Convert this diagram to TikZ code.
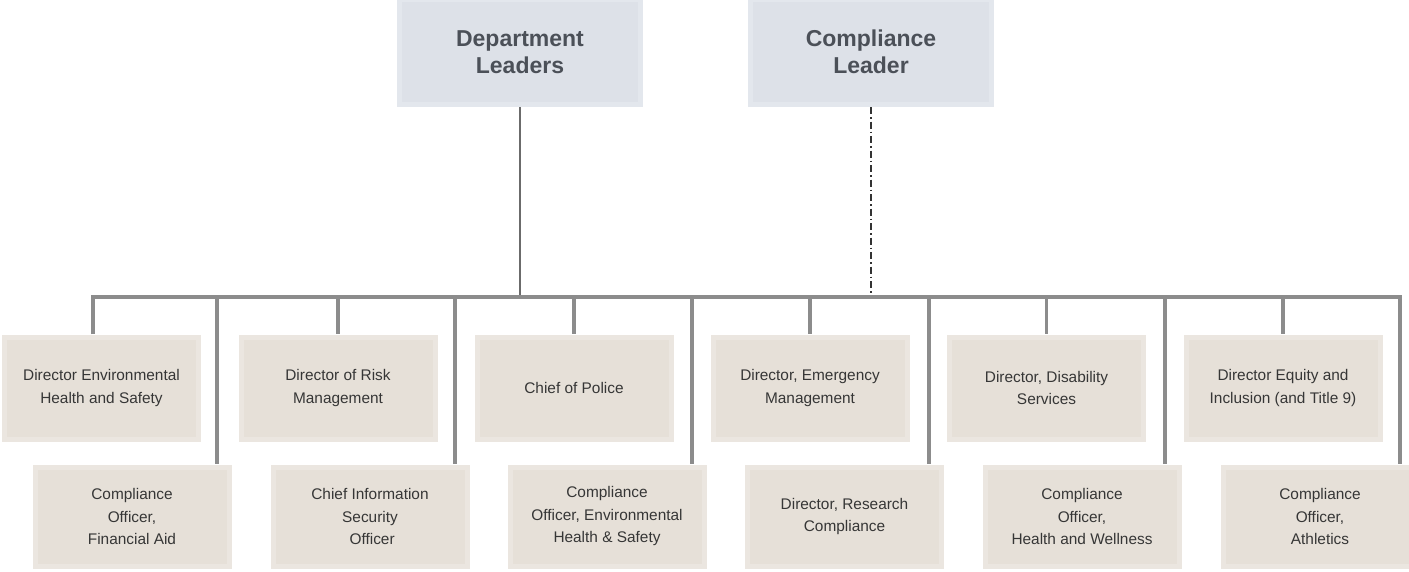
\documentclass[tikz,border=0pt]{standalone}
\usepackage{fontspec}
\setmainfont{Liberation Sans}
\definecolor{leadfill}{HTML}{E3E7ED}
\definecolor{leadcore}{HTML}{DDE1E8}
\definecolor{leadtext}{HTML}{4B5058}
\definecolor{unitfill}{HTML}{EBE6E0}
\definecolor{unitcore}{HTML}{E6E0D8}
\definecolor{unittext}{HTML}{363636}
\definecolor{busgray}{HTML}{8C8C8C}
\tikzset{
  bevelbox/.style={draw=none, fill=#1, inner sep=0pt, align=center},
  core/.style={path picture={\fill[#1]
      ([shift={(5pt,-5pt)}]path picture bounding box.north west) rectangle
      ([shift={(-5pt,5pt)}]path picture bounding box.south east);}},
  leader/.style={bevelbox=leadfill, core=leadcore, minimum width=246pt, minimum height=110pt,
      text=leadtext, font=\fontsize{23}{27}\selectfont\bfseries},
  unitbox/.style={bevelbox=unitfill, core=unitcore, minimum width=199pt, minimum height=107pt,
      text=unittext, font=\fontsize{15.4}{22.5}\selectfont},
  lowbox/.style={unitbox, minimum height=104pt},
  bus/.style={draw=busgray, line width=3.6pt, line join=miter},
  solidlink/.style={draw=black!58, line width=1.4pt},
  dotlink/.style={draw=black!80, line width=1.2pt, dash pattern=on 7pt off 3pt on 1.5pt off 3pt},
}
\begin{document}
\begin{tikzpicture}[x=1pt,y=-1pt]
\useasboundingbox (0,0) rectangle (1409,571);

% leadership
\node[leader] (dept) at (520,52) {Department\\Leaders};
\node[leader] (comp) at (871,52) {Compliance\\Leader};

% first row of units
\node[unitbox] (t1) at (101.5,388) {Director Environmental\\Health and Safety};
\node[unitbox] (t2) at (338,388) {Director of Risk\\Management};
\node[unitbox] (t3) at (574,388) {Chief of Police};
\node[unitbox] (t4) at (810,388) {Director, Emergency\\Management};
\node[unitbox] (t5) at (1046.5,388) {Director, Disability\\Services};
\node[unitbox] (t6) at (1283,388) {Director Equity and\\Inclusion (and Title 9)};

% second row of units
\node[lowbox] (b1) at (132,516.5) {Compliance\\Officer,\\Financial Aid};
\node[lowbox] (b2) at (370,516.5) {Chief Information\\Security\\\ Officer};
\node[lowbox] (b3) at (607,516.5) {Compliance\\Officer, Environmental\\Health \& Safety};
\node[lowbox] (b4) at (844.5,516.5) {Director, Research\\Compliance};
\node[lowbox] (b5) at (1082,516.5) {Compliance\\Officer,\\Health and Wellness};
\node[lowbox] (b6) at (1320,516.5) {Compliance\\Officer,\\Athletics};

% bus line and its drop points
\coordinate (busL) at (93,297);
\coordinate (busR) at (1400,297);
\coordinate (d1) at (217,297);
\coordinate (d2) at (455,297);
\coordinate (d3) at (692,297);
\coordinate (d4) at (929,297);
\coordinate (d5) at (1165,297);

% links from the leaders
\draw[solidlink] (dept.south) -- (dept.south |- busL);
\draw[dotlink] (comp.south) -- (comp.south |- busL);

% bus with its end drops
\draw[bus] (t1.north -| busL) -- (busL) -- (busR) -- (busR |- b6.north);

% drops to the first row
\foreach \n in {t2,t3,t4,t5,t6}
  \draw[bus] (\n.north |- busL) -- (\n.north);

% drops to the second row
\draw[bus] (d1) -- (d1 |- b1.north);
\draw[bus] (d2) -- (d2 |- b2.north);
\draw[bus] (d3) -- (d3 |- b3.north);
\draw[bus] (d4) -- (d4 |- b4.north);
\draw[bus] (d5) -- (d5 |- b5.north);
\end{tikzpicture}
\end{document}
